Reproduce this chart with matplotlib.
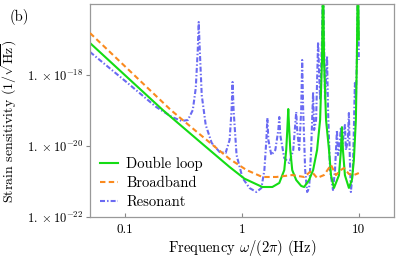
import matplotlib
matplotlib.use('Agg')
import matplotlib.pyplot as plt
from matplotlib.ticker import FixedLocator, FixedFormatter, NullLocator

plt.rcParams['font.family'] = 'serif'
plt.rcParams['font.serif'] = ['cmr10', 'DejaVu Serif']
plt.rcParams['mathtext.fontset'] = 'cm'
plt.rcParams['axes.formatter.use_mathtext'] = True

# Double loop (solid green)
dl_freq = [0.05, 0.21, 0.418, 0.783, 1.05, 1.494, 1.818, 2.085, 2.30, 2.39, 2.44,
           2.488, 2.537, 2.59, 2.69, 2.91, 3.21, 3.40, 3.75, 4.06, 4.39, 4.66, 4.84,
           4.938, 5.036, 5.24, 5.555, 5.777, 6.126, 6.757, 7.03, 7.166, 7.31, 7.60,
           8.22, 8.72, 9.066, 9.43, 9.616, 9.806, 10.0]
dl_strain = [7.96e-18, 1.03e-19, 1.48e-20, 2.56e-21, 1.2e-21, 7.0e-22, 7.0e-22, 9.1e-22,
             2.1e-21, 7.7e-21, 2.8e-20, 1.1e-19, 2.8e-20, 7.7e-21, 2.1e-21, 1.1e-21,
             7.5e-22, 7.0e-22, 1.1e-21, 2.1e-21, 7.7e-21, 5.4e-20, 2.65e-18, 1e-15,
             2.65e-18, 5.4e-20, 7.7e-21, 1.5e-21, 6.6e-22, 1.5e-21, 7.7e-21, 3.4e-20,
             7.7e-21, 1.5e-21, 6.6e-22, 1.1e-21, 4.0e-21, 5.4e-20, 2.65e-18, 1e-15,
             1e-17]

# Broadband (dashed orange)
bb_freq = [0.05, 0.246, 0.402, 0.783, 1.092, 1.494, 1.966, 2.69, 3.404, 3.904, 4.391,
           5.036, 5.777, 6.371, 7.027, 7.452, 8.22, 9.066, 10.0]
bb_strain = [1.52e-17, 1.03e-19, 2.65e-20, 4.31e-21, 2.11e-21, 1.34e-21, 1.34e-21,
             1.52e-21, 1.34e-21, 1.98e-21, 1.26e-21, 1.52e-21, 2.92e-21, 1.52e-21,
             2.11e-21, 2.40e-21, 1.63e-21, 1.52e-21, 1.73e-21]

# Resonant (dash-dot blue)
rs_freq = [0.05, 0.1, 0.184, 0.251, 0.3055, 0.344, 0.379, 0.402, 0.418, 0.426, 0.435,
           0.452, 0.489, 0.55, 0.643, 0.724, 0.783, 0.814, 0.830, 0.847, 0.898, 1.01,
           1.158, 1.328, 1.466, 1.554, 1.616, 1.648, 1.681, 1.782, 1.928, 2.045, 2.085,
           2.127, 2.30, 2.537, 2.744, 2.853, 2.91, 2.968, 3.087, 3.21, 3.273, 3.338,
           3.471, 3.61, 3.754, 3.904, 4.06, 4.14, 4.306, 4.478, 4.66, 4.84, 4.938,
           5.036, 5.135, 5.342, 5.45, 5.665, 6.007, 6.25, 6.497, 6.625, 6.757, 7.027,
           7.166, 7.31, 7.60, 7.75, 8.06, 8.22, 8.38, 8.548, 8.89, 9.066, 9.247, 9.43,
           9.616, 9.806, 10.0]
rs_strain = [4.45e-18, 6.78e-19, 1.26e-19, 6.56e-20, 5.06e-20, 5.40e-20, 1.03e-19,
             4.30e-19, 5.06e-18, 3.11e-17, 5.06e-18, 2.73e-19, 3.91e-20, 1.22e-20,
             6.78e-21, 6.35e-21, 1.48e-20, 1.03e-19, 6.35e-19, 1.03e-19, 5.57e-21,
             1.26e-21, 6.56e-22, 5.06e-22, 6.56e-22, 2.11e-21, 1.48e-20, 6.15e-20,
             1.48e-20, 5.57e-21, 7.71e-21, 2.82e-20, 6.56e-20, 2.0e-20, 4.59e-21,
             3.32e-21, 7.71e-21, 3.91e-20, 9.08e-20, 2.82e-20, 7.71e-21, 1.03e-19,
             2.65e-18, 1.03e-19, 2.11e-21, 5.06e-22, 6.56e-22, 7.71e-21, 3.32e-19,
             2.82e-20, 5.4e-20, 8.5e-18, 2.0e-19, 1e-17, 1e-15, 1e-17, 2.0e-19,
             3.43e-18, 1.03e-19, 2.11e-21, 5.77e-22, 2.11e-21, 2.82e-20, 5.57e-21,
             7.7e-21, 3.43e-20, 7.7e-21, 1.48e-20, 3.91e-20, 7.7e-21, 1.48e-20,
             8.51e-20, 4.0e-21, 5.06e-22, 2.11e-21, 2.82e-20, 5.95e-19, 2.0e-19,
             2.65e-18, 1e-15, 2.65e-18]

x_ticks = [0.1, 1, 10]
x_tick_labels = ['0.1', '1', '10']
y_ticks = [1e-22, 1e-20, 1e-18]
y_tick_labels = [r'$1.\times10^{-22}$', r'$1.\times10^{-20}$', r'$1.\times10^{-18}$']

fig = plt.figure(figsize=(3.99, 2.60), dpi=100)
ax = fig.add_axes([0.2256, 0.1654, 0.7619, 0.8192])

ax.plot(dl_freq, dl_strain, color='#14dc14', lw=1.5, label='Double loop', zorder=2)
ax.plot(bb_freq, bb_strain, color='#fa8a1e', lw=1.5, ls=(0, (2.6, 1.6)),
        label='Broadband', zorder=3)
ax.plot(rs_freq, rs_strain, color='#6a6af2', lw=1.5, ls=(0, (2.4, 1.0, 0.7, 1.0)),
        label='Resonant', zorder=1)

ax.set_xscale('log')
ax.set_yscale('log')
ax.set_xlim(0.05, 20)
ax.set_ylim(1e-22, 1e-16)

ax.xaxis.set_major_locator(FixedLocator(x_ticks))
ax.xaxis.set_major_formatter(FixedFormatter(x_tick_labels))
ax.xaxis.set_minor_locator(NullLocator())
ax.yaxis.set_major_locator(FixedLocator(y_ticks))
ax.yaxis.set_major_formatter(FixedFormatter(y_tick_labels))
ax.yaxis.set_minor_locator(NullLocator())

ax.tick_params(axis='x', direction='in', length=3, width=0.8, color='#888888',
               labelsize=9.5, pad=5)
ax.tick_params(axis='y', direction='out', length=3, width=0.8, color='#888888',
               labelsize=9, pad=2)
for s in ax.spines.values():
    s.set_color('#999999')
    s.set_linewidth(0.9)

ax.set_xlabel(r'Frequency $\omega/(2\pi)$ (Hz)', fontsize=10.5, labelpad=1.5)
ax.set_ylabel(r'Strain sensitivity $(1/\sqrt{\mathrm{Hz}})$', fontsize=10)
ax.yaxis.set_label_coords(-0.232, 0.45)

ax.legend(loc='lower left', frameon=False, fontsize=10.5, handlelength=1.25,
          handletextpad=0.55, labelspacing=0.35, borderaxespad=0.3,
          bbox_to_anchor=(0.0, -0.01))

fig.text(0.025, 0.965, '(b)', fontsize=10.5, va='top', ha='left')

fig.savefig('out.png', dpi=100)
